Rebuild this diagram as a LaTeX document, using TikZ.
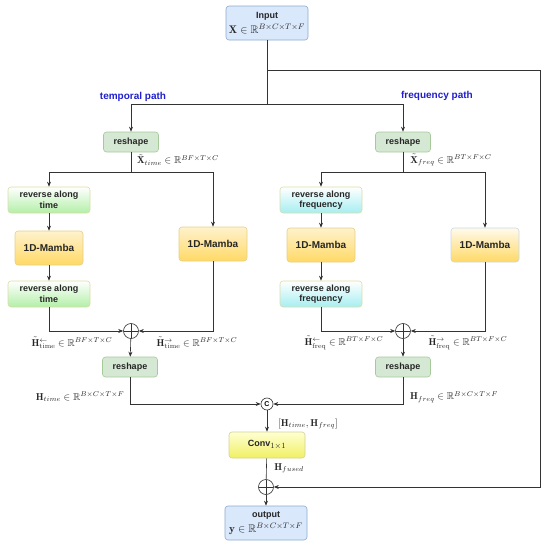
\documentclass[tikz,border=0pt]{standalone}
\usepackage{amsmath,amssymb}
\usepackage{fontspec}
\setsansfont{Liberation Sans}
\usetikzlibrary{arrows.meta,positioning,calc}
\definecolor{linec}{HTML}{333333}
\definecolor{ink}{HTML}{262626}
\definecolor{pathblue}{HTML}{1F1FCC}
\definecolor{iofill}{HTML}{DAE8FC}
\definecolor{iodraw}{HTML}{8FAAD0}
\definecolor{rsfill}{HTML}{D5E8D4}
\definecolor{rsdraw}{HTML}{A6C99A}
\definecolor{revdraw}{HTML}{DCDCA8}
\definecolor{greenbot}{HTML}{B2EFA8}
\definecolor{cyanbot}{HTML}{A6EEF2}
\definecolor{mbtop}{HTML}{FFF2CC}
\definecolor{mbbot}{HTML}{FFD966}
\definecolor{mbdraw}{HTML}{E6CE88}
\definecolor{mbdrawb}{HTML}{C9D8E8}
\definecolor{convtop}{HTML}{FFFFD2}
\definecolor{convbot}{HTML}{F0F064}
\definecolor{convdraw}{HTML}{D2D296}
\newcommand{\mathline}{\fontsize{11}{13}\selectfont}
\tikzset{
  block/.style={rounded corners=3pt, line width=0.6pt, align=center, inner sep=2pt,
                font=\sffamily\bfseries\fontsize{9}{10.5}\selectfont, text=ink},
  iobox/.style={block, fill=iofill, draw=iodraw, minimum width=82pt, minimum height=34pt},
  rsbox/.style={block, fill=rsfill, draw=rsdraw, minimum width=55pt, minimum height=20pt},
  revtime/.style={block, top color=white, bottom color=greenbot, draw=revdraw,
                  minimum width=82pt, minimum height=26pt},
  revfreq/.style={block, top color=white, bottom color=cyanbot, draw=revdraw,
                  minimum width=82pt, minimum height=26pt},
  mamba/.style={block, top color=mbtop, bottom color=mbbot, draw=mbdraw,
                minimum width=68pt, minimum height=34pt,
                font=\sffamily\bfseries\fontsize{10}{12}\selectfont},
  arrow/.style={-{Stealth[length=5pt,width=4pt]}, line width=0.6pt, draw=linec},
  wire/.style={line width=0.6pt, draw=linec},
  sumnode/.style={circle, draw=linec, line width=0.6pt, minimum size=15pt, inner sep=0pt,
                  path picture={\draw[linec, line width=0.6pt]
                    (path picture bounding box.north) -- (path picture bounding box.south)
                    (path picture bounding box.west) -- (path picture bounding box.east);}},
  lab/.style={font=\fontsize{10}{12}\selectfont, text=ink, inner sep=1pt},
  pathlab/.style={font=\sffamily\bfseries\fontsize{10}{12}\selectfont, text=pathblue}
}
\begin{document}
\begin{tikzpicture}[x=1pt,y=-1pt]
    \useasboundingbox (0,0) rectangle (550,546);
    % input
    \node[iobox] (inp) at (267,23) {Input\\[3pt]{\mathline$\mathbf{X}\in\mathbb{R}^{B\times C\times T\times F}$}};
    \coordinate (skip) at (267,70);
    \coordinate (split) at (267,104);
    \coordinate (skipc) at (540,487);
    \node[pathlab] (tpath) at (133,97) {temporal path};
    \node[pathlab] (fpath) at (437,96) {frequency path};
    \node[rsbox] (rsT) at (131,142) {reshape};
    \node[rsbox] (rsF) at (403,142) {reshape};
    \draw[wire] (inp) -- (split);
    \draw[arrow] (split) -| (rsT);
    \draw[arrow] (split) -| (rsF);

    % temporal path
    \coordinate (bT) at (131,172);
    \node[revtime] (revT1) at (49,200) {reverse along\\time};
    \node[mamba] (mbT) at (49,248) {1D-Mamba};
    \node[revtime] (revT2) at (49,294) {reverse along\\time};
    \node[mamba] (mbT2) at (213,244) {1D-Mamba};
    \node[sumnode] (sumT) at (131,331) {};
    \node[rsbox] (rsT2) at (130,367) {reshape};
    \node[lab] (xT) at (178,160) {$\tilde{\mathbf{X}}_{time}\in\mathbb{R}^{BF\times T\times C}$};
    \draw[wire] (rsT) -- (bT);
    \draw[arrow] (bT) -| (revT1);
    \draw[arrow] (bT) -| (mbT2);
    \draw[arrow] (revT1) -- (mbT);
    \draw[arrow] (mbT) -- (revT2);
    \draw[arrow] (revT2) |- (sumT);
    \draw[arrow] (mbT2) |- (sumT);
    \draw[arrow] (sumT) -- (rsT2);
    \node[lab] (hTl) at (72,343) {$\tilde{\mathbf{H}}^{\leftarrow}_{\text{time}}\in\mathbb{R}^{BF\times T\times C}$};
    \node[lab] (hTr) at (197,343) {$\tilde{\mathbf{H}}^{\rightarrow}_{\text{time}}\in\mathbb{R}^{BF\times T\times C}$};

    % frequency path
    \coordinate (bF) at (403,172);
    \node[revfreq] (revF1) at (321,200) {reverse along\\frequency};
    \node[mamba] (mbF) at (321,245) {1D-Mamba};
    \node[revfreq] (revF2) at (321,294) {reverse along\\frequency};
    \node[mamba, top color=white!60!mbtop, draw=mbdrawb] (mbF2) at (485,245) {1D-Mamba};
    \node[sumnode] (sumF) at (403,331) {};
    \node[rsbox] (rsF2) at (403,367) {reshape};
    \node[lab] (xF) at (451,160) {$\tilde{\mathbf{X}}_{freq}\in\mathbb{R}^{BT\times F\times C}$};
    \draw[wire] (rsF) -- (bF);
    \draw[arrow] (bF) -| (revF1);
    \draw[arrow] (bF) -| (mbF2);
    \draw[arrow] (revF1) -- (mbF);
    \draw[arrow] (mbF) -- (revF2);
    \draw[arrow] (revF2) |- (sumF);
    \draw[arrow] (mbF2) |- (sumF);
    \draw[arrow] (sumF) -- (rsF2);
    \node[lab] (hFl) at (344,343) {$\tilde{\mathbf{H}}^{\leftarrow}_{\text{freq}}\in\mathbb{R}^{BT\times F\times C}$};
    \node[lab] (hFr) at (468,343) {$\tilde{\mathbf{H}}^{\rightarrow}_{\text{freq}}\in\mathbb{R}^{BT\times F\times C}$};

    % fusion
    \node[circle, draw=linec, line width=0.6pt, minimum size=12pt, inner sep=0pt,
          font=\sffamily\bfseries\fontsize{7}{8}\selectfont] (cat) at (267,404) {C};
    \node[block, top color=convtop, bottom color=convbot, draw=convdraw,
          minimum width=76pt, minimum height=26pt] (conv) at (267,445) {Conv{\mathline$_{1\times 1}$}};
    \node[sumnode] (sumO) at (266,487) {};
    \node[iobox] (out) at (266,523) {output\\[3pt]{\mathline$\mathbf{y}\in\mathbb{R}^{B\times C\times T\times F}$}};
    \draw[arrow] (rsT2) |- (cat);
    \draw[arrow] (rsF2) |- (cat);
    \draw[arrow] (cat) -- (conv);
    \draw[wire] (conv) -- (sumO);
    \draw[arrow] (sumO) -- (out);
    \draw[arrow] (skip) -| (skipc) -- (sumO);
    \node[lab] (hT) at (80,397) {$\mathbf{H}_{time}\in\mathbb{R}^{B\times C\times T\times F}$};
    \node[lab] (hF) at (454,397) {$\mathbf{H}_{freq}\in\mathbb{R}^{B\times C\times T\times F}$};
    \node[lab] (hcat) at (308,424) {$[\mathbf{H}_{time},\mathbf{H}_{freq}]$};
    \node[lab] (hfus) at (289,468) {$\mathbf{H}_{fused}$};
  \end{tikzpicture}
\end{document}
